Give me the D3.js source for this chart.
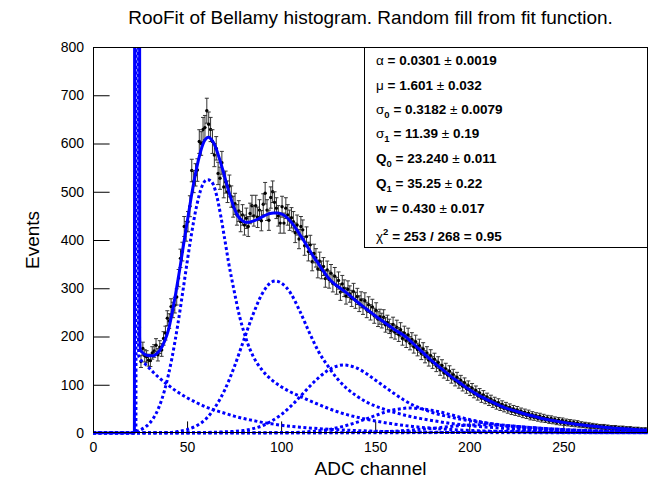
<!DOCTYPE html>
<html>
<head>
<meta charset="utf-8">
<script src="https://cdn.jsdelivr.net/npm/d3@7"></script>
<style>
body { margin: 0; background: #fff; }
svg { display: block; font-family: "Liberation Sans", Arial, Helvetica, sans-serif; }
</style>
</head>
<body>
<div id="chart"></div>
<script>
// ---- data ----
var binStart = 22.5;   // centre of first non-empty bin, bin width 1 ADC channel
var binWidth = 1;
var counts = [
	1500, 3600, 205, 148, 175, 160, 158, 151,                 // 22-29
	150, 166, 170, 182, 162, 178, 172, 196, 207, 238,         // 30
	232, 262, 255, 265, 282, 321, 362, 376, 428, 418,         // 40
	438, 470, 544, 521, 535, 545, 604, 600, 629, 633,         // 50
	668, 640, 629, 604, 576, 590, 538, 528, 560, 510,         // 60
	520, 500, 512, 490, 469, 475, 452, 460, 438, 452,         // 70
	431, 445, 428, 455, 471, 450, 471, 447, 462, 440,         // 80
	474, 497, 462, 441, 488, 500, 478, 466, 450, 435,         // 90
	469, 435, 466, 452, 441, 446, 438, 415, 431, 402,         // 100
	428, 421, 388, 407, 376, 390, 355, 372, 363, 340,         // 110
	356, 338, 345, 320, 338, 318, 331, 310, 325, 305,         // 120
	316, 292, 309, 300, 284, 298, 288, 279, 293, 275,         // 130
	283, 268, 276, 262, 274, 255, 266, 250, 261, 243,         // 140
	254, 236, 241, 233, 240, 224, 229, 221, 212, 225,         // 150
	209, 219, 204, 214, 196, 207, 191, 203, 186, 194,         // 160
	179, 189, 173, 181, 165, 174, 158, 166, 151, 160,         // 170
	146, 153, 139, 146, 131, 140, 125, 133, 120, 128,         // 180
	114, 121, 108, 115, 103, 109, 97, 104, 92, 98,            // 190
	87, 93, 82, 88, 77, 83, 72, 79, 69, 74,                   // 200
	65, 70, 61, 66, 57, 63, 54, 59, 51, 56,                   // 210
	48, 53, 45, 50, 43, 48, 41, 45, 38, 43,                   // 220
	36, 41, 33, 38, 32, 36, 30, 35, 28, 33,                   // 230
	27, 31, 25, 30, 24, 28, 22, 27, 21, 26,                   // 240
	20, 24, 19, 23, 18, 22, 17, 21, 16, 19,                   // 250
	15, 18, 14, 17, 13, 16, 13, 15, 12, 14,                   // 260
	11, 14, 10, 13, 10, 12, 9, 12, 8, 11,                     // 270
	8, 11, 7, 10, 7, 10, 6, 9, 6, 9,                          // 280
	5, 8, 5, 8, 5                                             // 290
];

// total fit (solid)
var fitCurve = [[0,0],[22.0,0],[22.3,2500],[24.6,2500],[24.85,200],[25.2,172],[26,168],[28,162],[30,160],[32,160],[34,165],[36,174],[38,190],[40,212],[42,248],[44,290],[46,337],[48,387],[50,436],[52,484],[54,528],[56,565],[58,594],[60,610],[61.5,613],[63,608],[65,594],[67,571],[69,545],[71,517],[73,490],[75,467],[77,450],[79,441],[81,437],[83,437],[85,439],[88,444],[91,450],[94,455],[96,456],[98,456],[100,454],[102,450],[104,443],[106,434],[108,423],[110,411],[112,399],[114,386],[116,373],[118,361],[120,350],[122,338],[125,322],[128,310],[130,304],[135,290],[140,273],[145,258],[150,243],[155,229],[160,215],[166,200],[170,186],[175,168],[180,150],[185,134],[190,118],[195,104],[200,90],[205,78],[210,68],[215,59],[220,51],[225,45],[230,39],[235,34],[240,29],[245,25.5],[250,22],[255,19],[260,16.5],[265,14.5],[270,12.5],[275,10.8],[280,9.3],[285,8.1],[290,7],[295,6.1]];

// components (dotted)
var bkgCurve = [[0,0],[22.8,0],[23.0,1500],[23.9,1500],[24.0,435],[24.3,160],[25,154],[28,142],[30,134],[32,126],[35,115],[38,105],[40,99],[45,85],[50,73],[55,63],[60,54],[65,47],[70,41],[75,35],[80,30],[85,26],[90,22],[95,19],[100,16],[110,12],[120,9],[130,6.7],[140,5],[150,3.7],[160,2.7],[180,1.5],[200,0.8],[220,0.4],[250,0.15],[295,0.04]];
var pe1Curve = [[0,0],[23.3,0],[24,4],[25,6],[28,13],[30,20],[32,30],[35,53],[38,88],[40,119],[42,156],[45,223],[48,300],[50,353],[52,404],[55,469],[58,512],[60,524],[61,525],[63,521],[65,503],[68,448],[70,402],[72,355],[75,295],[78,240],[80,212],[82,188],[85,160],[90,130],[95,110],[100,96],[105,85],[110,76],[115,67],[120,59],[125,51],[130,44],[135,38],[140,33],[150,25],[160,18.5],[170,13.5],[180,10],[190,7.3],[200,5.4],[220,2.9],[240,1.6],[260,0.85],[280,0.45],[295,0.3]];
var pe2Curve = [[0,0],[23.3,0],[30,0.1],[40,1],[45,3],[50,7],[55,15],[60,29],[65,54],[70,89],[75,136],[80,191],[85,245],[90,289],[95,313],[97,315],[100,311],[105,290],[110,252],[115,208],[120,168],[125,138],[130,112],[135,92],[140,77],[145,65],[150,56],[155,49],[160,43],[170,33],[180,26],[190,20],[200,15.5],[210,12],[220,9.2],[230,7.1],[240,5.5],[260,3.3],[280,2],[295,1.4]];
var pe3Curve = [[0,0],[23.3,0],[50,0.2],[60,1],[70,2.5],[80,5],[85,9],[90,15],[95,25],[100,38],[105,55],[110,75],[115,96],[120,115],[125,130],[130,139],[133,141],[135,140.5],[140,135],[145,124],[150,110],[155,96],[160,82],[165,69],[170,58],[175,50],[180,43],[190,33],[200,25.5],[210,20],[220,15.5],[230,12],[240,9.3],[250,7.2],[260,5.6],[280,3.4],[295,2.4]];
var pe4Curve = [[0,0],[23.3,0],[80,0.1],[100,0.5],[110,1.5],[120,4.5],[125,7],[130,11],[135,16],[140,22],[145,29],[150,36],[155,43],[160,48],[165,51],[168,52],[170,51.5],[175,50],[180,47],[185,43],[190,38],[195,33],[200,28],[205,24],[210,20],[215,17],[220,14],[230,9.5],[240,6.5],[250,4.5],[260,3.1],[270,2.1],[280,1.5],[295,0.9]];
var pe5Curve = [[0,0],[23.3,0],[110,0.1],[130,0.5],[140,1],[150,2],[160,3.7],[170,6.3],[180,9.6],[190,13.3],[200,16.4],[205,17],[210,16.8],[220,15],[230,12.3],[240,9.5],[250,7],[260,5],[270,3.6],[280,2.6],[295,1.6]];
var pe6Curve = [[0,0],[23.3,0],[150,0.1],[170,0.3],[180,0.6],[190,1.1],[200,1.8],[210,2.7],[220,3.6],[230,4.4],[240,4.8],[250,4.7],[260,4.2],[270,3.5],[280,2.8],[295,1.9]];

// fit result box
var parNames  = ["\u03b1", "\u03bc", "\u03c3", "\u03c3", "Q", "Q", "w", "\u03c7"];
var parSubs   = ["", "", "0", "1", "0", "1", "", ""];
var parSups   = ["", "", "", "", "", "", "", "2"];
var parValues = ["0.0301", "1.601", "0.3182", "11.39", "23.240", "35.25", "0.430", "253 / 268 = 0.95"];
var parErrors = ["0.0019", "0.032", "0.0079", "0.19", "0.011", "0.22", "0.017", ""];

var xMajor = [0, 50, 100, 150, 200, 250];
var yMajor = [0, 100, 200, 300, 400, 500, 600, 700, 800];

// ---- layout ----
var W = 652, H = 482;
var frame = {left: 93, top: 47, right: 648, bottom: 433};
var BLUE = "#0000ff";

var svg = d3.select("#chart").append("svg")
	.attr("width", W)
	.attr("height", H);

svg.append("rect").attr("width", W).attr("height", H).attr("fill", "#fff");

var x = d3.scaleLinear().domain([0, 295]).range([frame.left, frame.right]);
var y = d3.scaleLinear().domain([0, 800]).range([frame.bottom, frame.top]);

svg.append("defs").append("clipPath").attr("id", "plotClip")
	.append("rect")
	.attr("x", frame.left)
	.attr("y", frame.top)
	.attr("width", frame.right - frame.left)
	.attr("height", frame.bottom - frame.top + 1.5);

// title
svg.append("text")
	.attr("x", (frame.left + frame.right) / 2)
	.attr("y", 24)
	.attr("text-anchor", "middle")
	.attr("font-size", 19)
	.attr("fill", "#000")
	.text("RooFit of Bellamy histogram. Random fill from fit function.");

// axes (ROOT style: ticks inside the frame)
var gx = svg.append("g").attr("transform", "translate(0," + frame.bottom + ")");
gx.call(d3.axisBottom(x).tickValues(d3.range(0, 296, 10)).tickSize(-5.8).tickFormat(""));
gx.call(d3.axisBottom(x).tickValues(xMajor).tickSize(-11.6).tickPadding(9).tickFormat(d3.format("d")));
gx.selectAll(".domain").remove();

var gy = svg.append("g").attr("transform", "translate(" + frame.left + ",0)");
gy.call(d3.axisLeft(y).tickValues(d3.range(0, 801, 20)).tickSize(-8.3).tickFormat(""));
gy.call(d3.axisLeft(y).tickValues(yMajor).tickSize(-16.6).tickPadding(9).tickFormat(d3.format("d")));
gy.selectAll(".domain").remove();

svg.selectAll(".tick line").attr("stroke", "#000").attr("stroke-width", 1);
svg.selectAll(".tick text")
	.attr("font-size", 14)
	.attr("font-family", "'Liberation Sans', Arial, sans-serif")
	.attr("fill", "#000");

// axis titles
svg.append("text")
	.attr("x", (frame.left + frame.right) / 2)
	.attr("y", 475)
	.attr("text-anchor", "middle")
	.attr("font-size", 19)
	.text("ADC channel");

svg.append("text")
	.attr("transform", "translate(39," + ((frame.top + frame.bottom) / 2) + ") rotate(-90)")
	.attr("text-anchor", "middle")
	.attr("font-size", 19)
	.text("Events");

// plot contents
var plot = svg.append("g").attr("clip-path", "url(#plotClip)");

var line = d3.line()
	.x(d => x(d[0]))
	.y(d => y(d[1]))
	.curve(d3.curveMonotoneX);

// data points with poisson error bars (drawn first, curves go on top)
var pts = counts.map((c, i) => ({x: binStart + i * binWidth, n: c}));
var pg = plot.selectAll("g.pt")
	.data(pts)
	.enter()
	.append("g")
	.attr("class", "pt");

pg.append("line")
	.attr("x1", d => x(d.x)).attr("x2", d => x(d.x))
	.attr("y1", d => y(d.n + Math.sqrt(d.n)))
	.attr("y2", d => y(d.n - Math.sqrt(d.n)))
	.attr("stroke", "#333").attr("stroke-width", 1);
pg.append("line")
	.attr("x1", d => x(d.x) - 2).attr("x2", d => x(d.x) + 2)
	.attr("y1", d => y(d.n + Math.sqrt(d.n))).attr("y2", d => y(d.n + Math.sqrt(d.n)))
	.attr("stroke", "#333").attr("stroke-width", 1);
pg.append("line")
	.attr("x1", d => x(d.x) - 2).attr("x2", d => x(d.x) + 2)
	.attr("y1", d => y(d.n - Math.sqrt(d.n))).attr("y2", d => y(d.n - Math.sqrt(d.n)))
	.attr("stroke", "#333").attr("stroke-width", 1);
pg.append("circle")
	.attr("cx", d => x(d.x))
	.attr("cy", d => y(d.n))
	.attr("r", 1.7)
	.attr("fill", "#000");

var comps = [bkgCurve, pe1Curve, pe2Curve, pe3Curve, pe4Curve, pe5Curve, pe6Curve];
plot.selectAll("path.comp")
	.data(comps)
	.enter()
	.append("path")
	.attr("class", "comp")
	.attr("d", line)
	.attr("fill", "none")
	.attr("stroke", BLUE)
	.attr("stroke-width", 3)
	.attr("stroke-dasharray", "3,2.5");

plot.append("path")
	.attr("d", line(fitCurve))
	.attr("fill", "none")
	.attr("stroke", BLUE)
	.attr("stroke-width", 3)
	.attr("stroke-linejoin", "round");

// frame
svg.append("rect")
	.attr("x", frame.left + 0.5)
	.attr("y", frame.top + 0.5)
	.attr("width", frame.right - frame.left - 1)
	.attr("height", frame.bottom - frame.top - 1)
	.attr("fill", "none")
	.attr("stroke", "#000")
	.attr("stroke-width", 1);

// parameter box
var box = {left: 364, top: 47, right: 648, bottom: 248};
svg.append("rect")
	.attr("x", box.left + 0.5)
	.attr("y", box.top + 0.5)
	.attr("width", box.right - box.left - 1)
	.attr("height", box.bottom - box.top - 1)
	.attr("fill", "#fff")
	.attr("stroke", "#000")
	.attr("stroke-width", 1);

var rowY = [65, 90, 114, 138, 163, 188, 213, 241];
var rows = svg.selectAll("text.par")
	.data(parNames)
	.enter()
	.append("text")
	.attr("class", "par")
	.attr("x", 376)
	.attr("y", (d, i) => rowY[i])
	.attr("font-size", 13.5)
	.attr("fill", "#000");

rows.each(function(name, i){
	var t = d3.select(this);
	var greek = /[\u0370-\u03ff]/.test(name);
	t.append("tspan").attr("font-weight", greek ? "normal" : "bold").text(name);
	if(parSubs[i]) t.append("tspan").attr("font-size", 9.5).attr("font-weight", "bold").attr("dy", 4).text(parSubs[i]);
	if(parSups[i]) t.append("tspan").attr("font-size", 9.5).attr("font-weight", "bold").attr("dy", -6).text(parSups[i]);
	var shift = parSubs[i] ? -4 : (parSups[i] ? 6 : 0);
	t.append("tspan").attr("font-weight", "bold").attr("dy", shift).text(" =  " + parValues[i]);
	if(parErrors[i]){
		t.append("tspan").attr("font-weight", "normal").text(" \u00b1 ");
		t.append("tspan").attr("font-weight", "bold").text(parErrors[i]);
	}
});
</script>
</body>
</html>
